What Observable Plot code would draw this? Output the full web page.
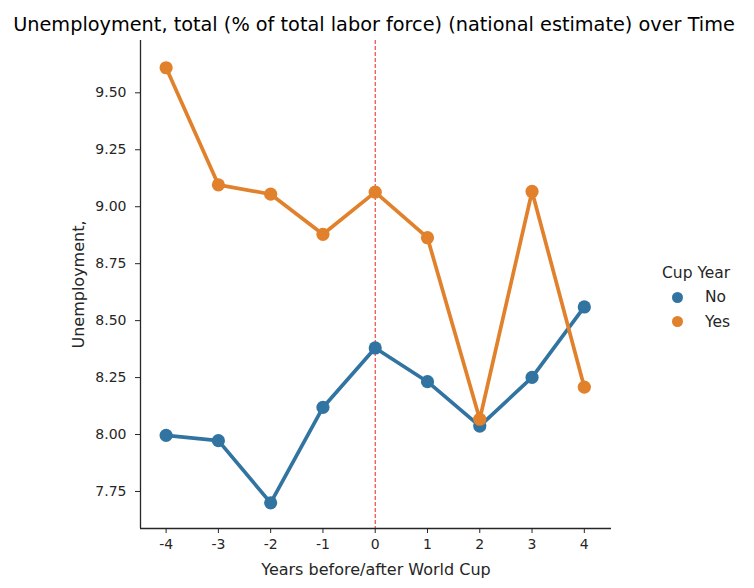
<!DOCTYPE html>
<html>
<head>
<meta charset="utf-8">
<script src="https://cdn.jsdelivr.net/npm/d3@7"></script>
<script src="https://cdn.jsdelivr.net/npm/@observablehq/plot@0.6"></script>
<style>
  html, body { margin: 0; padding: 0; background: white; }
  #wrap { position: relative; width: 754px; height: 588px; font-family: "DejaVu Sans", sans-serif; color: #262626; }
  #legend { position: absolute; left: 662px; top: 261px; font-size: 15.5px; }
  #legend .title { height: 24px; line-height: 24px; }
  #legend .item { display: flex; align-items: center; height: 24.5px; }
  #legend .sw { width: 11px; height: 11px; border-radius: 50%; margin-left: 10px; margin-right: 22px; }
</style>
</head>
<body>
<div id="wrap"><div id="chart"></div><div id="legend"></div></div>
<script>
const titleText = "Unemployment, total (% of total labor force) (national estimate) over Time";
const xLabel = "Years before/after World Cup";
const yLabel = "Unemployment,";
const legendTitle = "Cup Year";
const years = [-4, -3, -2, -1, 0, 1, 2, 3, 4];
const series = ["No", "Yes"];
const noValues = [7.996, 7.973, 7.700, 8.119, 8.380, 8.232, 8.037, 8.251, 8.560];
const yesValues = [9.610, 9.096, 9.055, 8.879, 9.064, 8.864, 8.067, 9.067, 8.208];
const colors = ["#3274a1", "#e1812c"];
const yTicks = [7.75, 8.00, 8.25, 8.50, 8.75, 9.00, 9.25, 9.50];
const cupYearMarker = [0];

const data = [];
series.forEach((s, i) => {
  const vals = i === 0 ? noValues : yesValues;
  years.forEach((yr, j) => data.push({cup: s, year: yr, value: vals[j]}));
});

const xDomain = [-4.49, 4.52];
const yDomain = [7.5875, 9.7297];

const chart = Plot.plot({
  width: 754,
  height: 588,
  marginLeft: 140,
  marginRight: 143,
  marginTop: 40,
  marginBottom: 60,
  style: {fontFamily: "DejaVu Sans, sans-serif", fontSize: "14px", color: "#262626", background: "white"},
  x: {domain: xDomain, label: null},
  y: {domain: yDomain, label: null},
  color: {domain: series, range: colors},
  marks: [
    Plot.ruleX(cupYearMarker, {x: d => d, stroke: "#e8231e", strokeWidth: 1, strokeDasharray: "4,2"}),
    Plot.line(data, {x: "year", y: "value", z: "cup", stroke: "cup", strokeWidth: 3.7}),
    Plot.dot(data, {x: "year", y: "value", fill: "cup", r: 6.6}),
    Plot.axisX({ticks: years, tickFormat: d => String(d), tickSize: 5, tickPadding: 6, stroke: "#262626", fill: "#262626", fontSize: 14, label: null}),
    Plot.axisY({ticks: yTicks, tickFormat: d3.format(".2f"), tickSize: 5, tickPadding: 9, stroke: "#262626", fill: "#262626", fontSize: 14, label: null}),
    Plot.ruleX([xDomain[0]], {stroke: "#262626", strokeWidth: 1.3}),
    Plot.ruleY([yDomain[0]], {stroke: "#262626", strokeWidth: 1.3}),
    Plot.text([xLabel], {text: d => d, frameAnchor: "bottom", lineAnchor: "middle", textAnchor: "middle", dy: 41, fontSize: 16, fill: "#262626"}),
    Plot.text([yLabel], {text: d => d, frameAnchor: "left", lineAnchor: "middle", textAnchor: "middle", dx: -61.5, rotate: -90, fontSize: 16, fill: "#262626"}),
    Plot.text([titleText], {text: d => d, frameAnchor: "top", lineAnchor: "middle", textAnchor: "middle", dy: -16, dx: -2, fontSize: 19.3, fill: "#000"})
  ]
});
document.getElementById("chart").appendChild(chart);

const legend = document.getElementById("legend");
const t = document.createElement("div");
t.className = "title";
t.textContent = legendTitle;
legend.appendChild(t);
series.forEach((s, i) => {
  const item = document.createElement("div");
  item.className = "item";
  const sw = document.createElement("span");
  sw.className = "sw";
  sw.style.background = colors[i];
  const lab = document.createElement("span");
  lab.textContent = s;
  item.appendChild(sw);
  item.appendChild(lab);
  legend.appendChild(item);
});
</script>
</body>
</html>
